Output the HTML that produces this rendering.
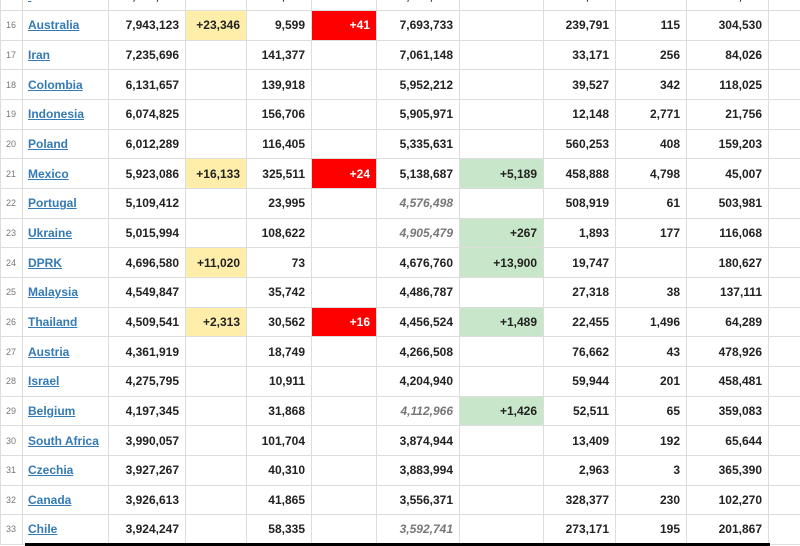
<!DOCTYPE html>
<html><head><meta charset="utf-8"><style>
body{margin:0;width:800px;height:546px;overflow:hidden;background:#fff;position:relative;font-family:"Liberation Sans",Arial,sans-serif}
table{position:absolute;left:0;top:-19.67px;border-collapse:collapse;table-layout:fixed;width:800px}
td{height:28.67px;border:1px solid #ddd;padding:0 6px 0 0;text-align:right;font-weight:bold;font-size:12px;color:#222;white-space:nowrap;overflow:hidden}
td.n{font-size:9px;font-weight:normal;color:#777;text-align:left;padding-left:5px}
td.c{text-align:left;padding-left:5px}
td.c a{color:#337ab7;text-decoration:underline}
td.y{background:#ffeeaa}
td.r{background:#f00;color:#fff}
td.g{background:#c8e6c9}
td.i{font-style:italic;color:#777;font-weight:bold}
.bar{position:absolute;left:25px;top:543px;width:745px;height:3px;background:#000}
</style></head><body>
<table>
<colgroup><col style="width:22px"><col style="width:86px"><col style="width:77px"><col style="width:61px"><col style="width:65px"><col style="width:65px"><col style="width:83px"><col style="width:84px"><col style="width:72px"><col style="width:71px"><col style="width:82px"><col style="width:32px"></colgroup>
<tr><td class="n">15</td><td class="c"><a>&nbsp;</a></td><td>8,000,000</td><td></td><td>9,000</td><td></td><td>7,000,000</td><td></td><td>100,000</td><td>100</td><td>100,000</td><td></td></tr>
<tr><td class="n">16</td><td class="c"><a>Australia</a></td><td>7,943,123</td><td class="y">+23,346</td><td>9,599</td><td class="r">+41</td><td>7,693,733</td><td></td><td>239,791</td><td>115</td><td>304,530</td><td></td></tr>
<tr><td class="n">17</td><td class="c"><a>Iran</a></td><td>7,235,696</td><td></td><td>141,377</td><td></td><td>7,061,148</td><td></td><td>33,171</td><td>256</td><td>84,026</td><td></td></tr>
<tr><td class="n">18</td><td class="c"><a>Colombia</a></td><td>6,131,657</td><td></td><td>139,918</td><td></td><td>5,952,212</td><td></td><td>39,527</td><td>342</td><td>118,025</td><td></td></tr>
<tr><td class="n">19</td><td class="c"><a>Indonesia</a></td><td>6,074,825</td><td></td><td>156,706</td><td></td><td>5,905,971</td><td></td><td>12,148</td><td>2,771</td><td>21,756</td><td></td></tr>
<tr><td class="n">20</td><td class="c"><a>Poland</a></td><td>6,012,289</td><td></td><td>116,405</td><td></td><td>5,335,631</td><td></td><td>560,253</td><td>408</td><td>159,203</td><td></td></tr>
<tr><td class="n">21</td><td class="c"><a>Mexico</a></td><td>5,923,086</td><td class="y">+16,133</td><td>325,511</td><td class="r">+24</td><td>5,138,687</td><td class="g">+5,189</td><td>458,888</td><td>4,798</td><td>45,007</td><td></td></tr>
<tr><td class="n">22</td><td class="c"><a>Portugal</a></td><td>5,109,412</td><td></td><td>23,995</td><td></td><td class="i">4,576,498</td><td></td><td>508,919</td><td>61</td><td>503,981</td><td></td></tr>
<tr><td class="n">23</td><td class="c"><a>Ukraine</a></td><td>5,015,994</td><td></td><td>108,622</td><td></td><td class="i">4,905,479</td><td class="g">+267</td><td>1,893</td><td>177</td><td>116,068</td><td></td></tr>
<tr><td class="n">24</td><td class="c"><a>DPRK</a></td><td>4,696,580</td><td class="y">+11,020</td><td>73</td><td></td><td>4,676,760</td><td class="g">+13,900</td><td>19,747</td><td></td><td>180,627</td><td></td></tr>
<tr><td class="n">25</td><td class="c"><a>Malaysia</a></td><td>4,549,847</td><td></td><td>35,742</td><td></td><td>4,486,787</td><td></td><td>27,318</td><td>38</td><td>137,111</td><td></td></tr>
<tr><td class="n">26</td><td class="c"><a>Thailand</a></td><td>4,509,541</td><td class="y">+2,313</td><td>30,562</td><td class="r">+16</td><td>4,456,524</td><td class="g">+1,489</td><td>22,455</td><td>1,496</td><td>64,289</td><td></td></tr>
<tr><td class="n">27</td><td class="c"><a>Austria</a></td><td>4,361,919</td><td></td><td>18,749</td><td></td><td>4,266,508</td><td></td><td>76,662</td><td>43</td><td>478,926</td><td></td></tr>
<tr><td class="n">28</td><td class="c"><a>Israel</a></td><td>4,275,795</td><td></td><td>10,911</td><td></td><td>4,204,940</td><td></td><td>59,944</td><td>201</td><td>458,481</td><td></td></tr>
<tr><td class="n">29</td><td class="c"><a>Belgium</a></td><td>4,197,345</td><td></td><td>31,868</td><td></td><td class="i">4,112,966</td><td class="g">+1,426</td><td>52,511</td><td>65</td><td>359,083</td><td></td></tr>
<tr><td class="n">30</td><td class="c"><a>South Africa</a></td><td>3,990,057</td><td></td><td>101,704</td><td></td><td>3,874,944</td><td></td><td>13,409</td><td>192</td><td>65,644</td><td></td></tr>
<tr><td class="n">31</td><td class="c"><a>Czechia</a></td><td>3,927,267</td><td></td><td>40,310</td><td></td><td>3,883,994</td><td></td><td>2,963</td><td>3</td><td>365,390</td><td></td></tr>
<tr><td class="n">32</td><td class="c"><a>Canada</a></td><td>3,926,613</td><td></td><td>41,865</td><td></td><td>3,556,371</td><td></td><td>328,377</td><td>230</td><td>102,270</td><td></td></tr>
<tr><td class="n">33</td><td class="c"><a>Chile</a></td><td>3,924,247</td><td></td><td>58,335</td><td></td><td class="i">3,592,741</td><td></td><td>273,171</td><td>195</td><td>201,867</td><td></td></tr>
</table>
<div class="bar"></div>
</body></html>
